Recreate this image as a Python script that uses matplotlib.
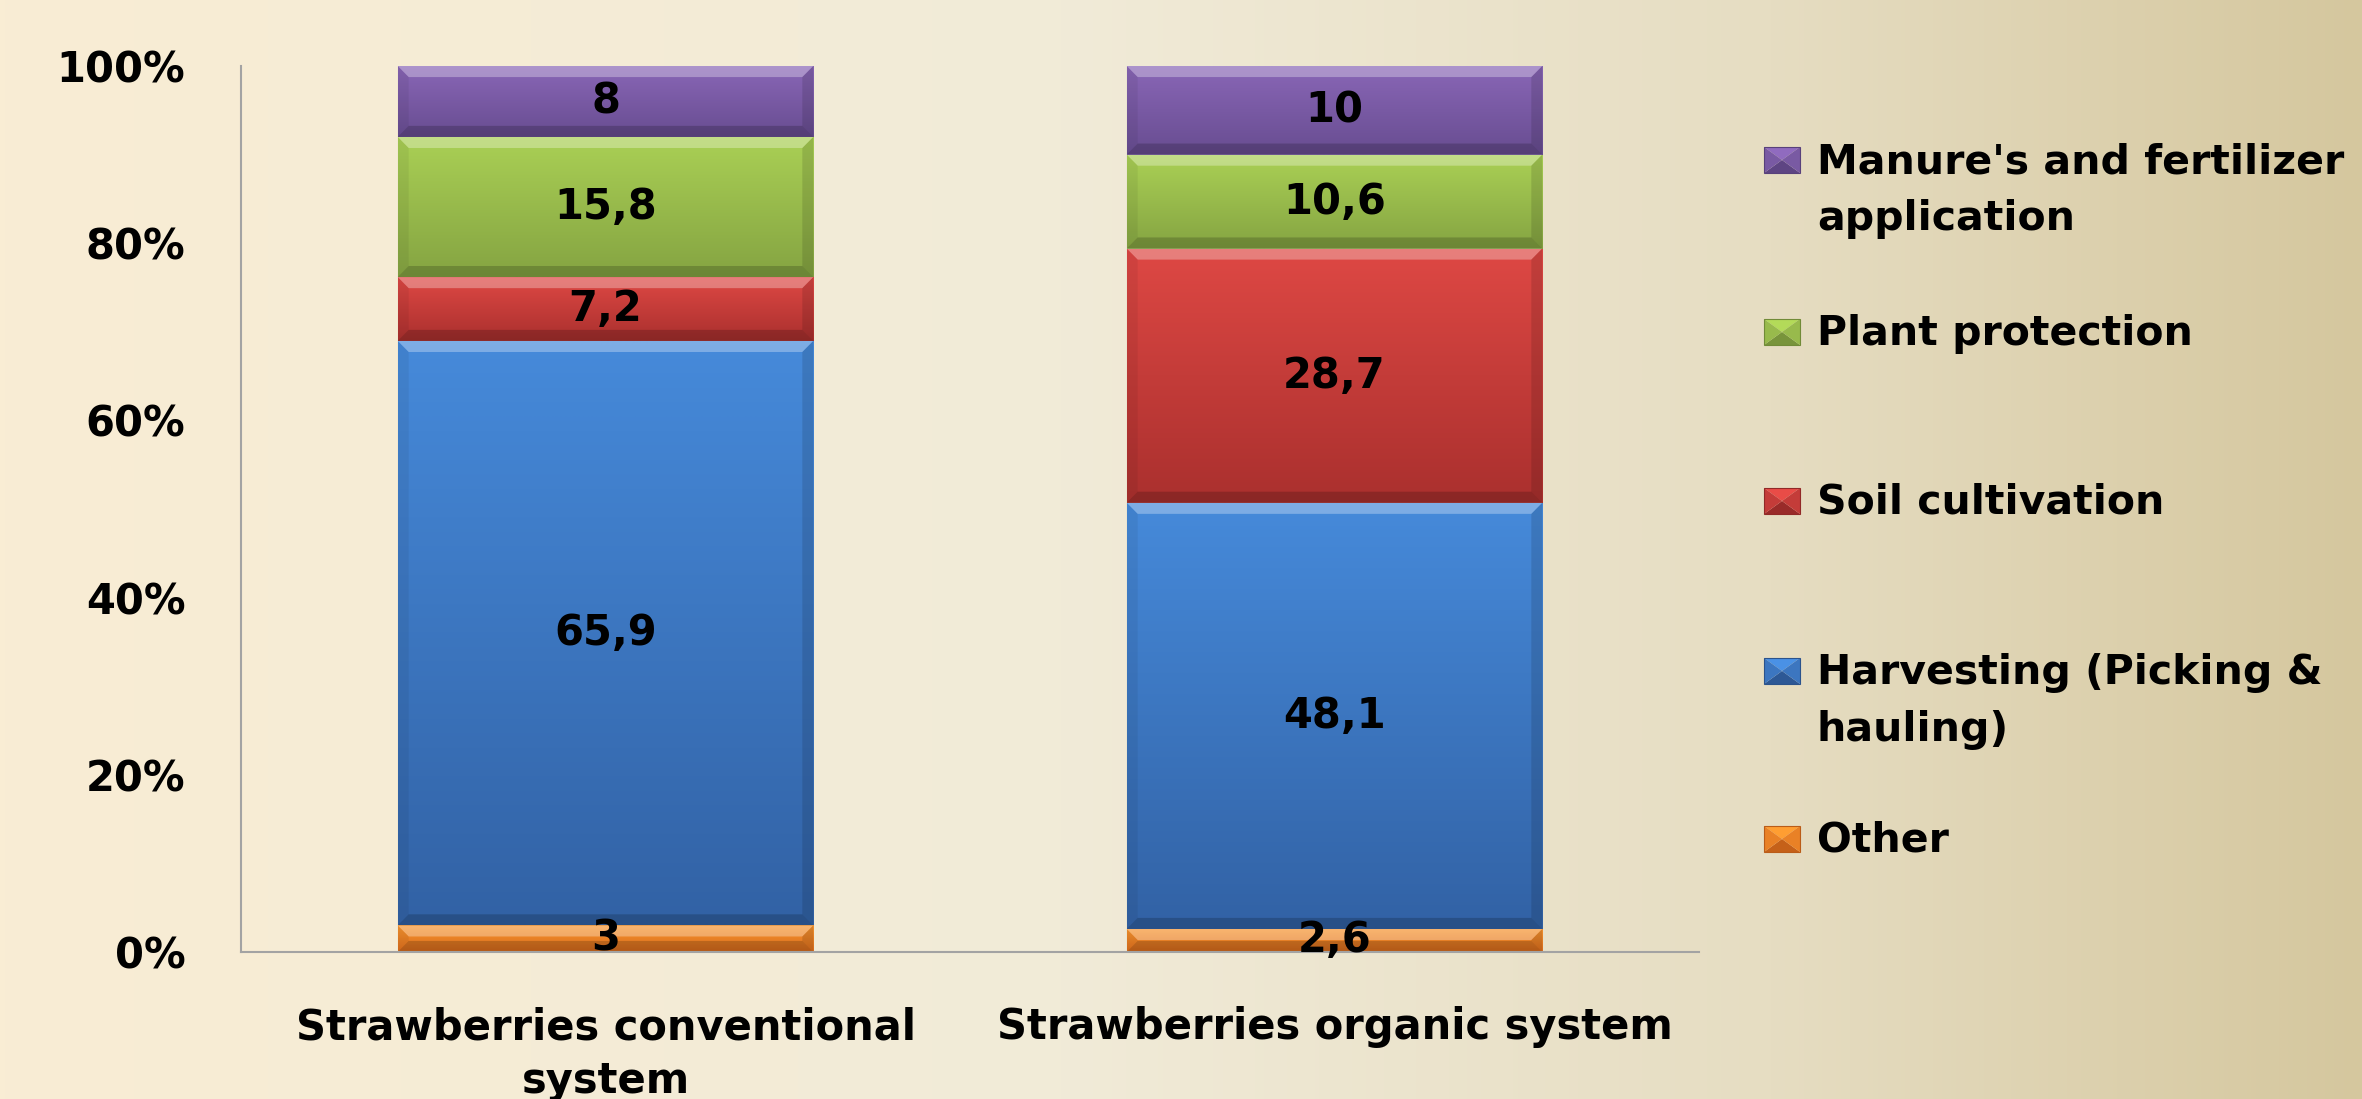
import numpy as np
import matplotlib.pyplot as plt
from matplotlib.patches import Polygon, Rectangle

# data
categories = ['Strawberries conventional\nsystem', 'Strawberries organic system']
series_names = ['Other', 'Harvesting (Picking &\nhauling)', 'Soil cultivation',
                'Plant protection', "Manure's and fertilizer\napplication"]
other = [3, 2.6]
harvesting = [65.9, 48.1]
soil = [7.2, 28.7]
plant = [15.8, 10.6]
manure = [8, 10]
y_ticks = [0, 20, 40, 60, 80, 100]

# (top, bottom) gradient colours for each series
shades = [((247, 150, 48), (219, 108, 28)),
          ((70, 138, 218), (50, 98, 165)),
          ((222, 72, 68), (170, 48, 46)),
          ((170, 208, 85), (133, 164, 66)),
          ((137, 102, 182), (104, 77, 145))]

W, H = 2362, 1099
fig = plt.figure(figsize=(W / 100, H / 100), dpi=100)

# background gradient
bg = fig.add_axes([0, 0, 1, 1], zorder=-10)
stops = np.array([0, 0.45, 0.75, 1.0])
cols = np.array([(249, 237, 212), (241, 235, 216), (230, 221, 194), (213, 199, 158)]) / 255
xs = np.linspace(0, 1, 512)
row = np.stack([np.interp(xs, stops, cols[:, i]) for i in range(3)], axis=1)
bg.imshow(row[None, :, :], aspect='auto', extent=(0, 1, 0, 1))
bg.axis('off')

ax = fig.add_axes([241 / W, 1 - 952 / H, (1699 - 241) / W, (952 - 66) / H])
ax.set_facecolor('none')

values = np.array([other, harvesting, soil, plant, manure], dtype=float)
pct = values / values.sum(axis=0) * 100
x = np.arange(len(categories))
width = 0.57
bx, by = 0.015, 1.25  # bevel size in data units

bottom = np.zeros(len(categories))
for i, name in enumerate(series_names):
    top_c = np.array(shades[i][0]) / 255
    bot_c = np.array(shades[i][1]) / 255
    bars = ax.bar(x, pct[i], width, bottom=bottom, color=(top_c + bot_c) / 2,
                  linewidth=0, zorder=2, label=name)
    for p in bars.patches:
        x0, w, y0, h = p.get_x(), p.get_width(), p.get_y(), p.get_height()
        t = np.linspace(0, 1, 64)[:, None]
        img = (top_c * (1 - t) + bot_c * t)[:, None, :]
        ax.imshow(img, extent=(x0, x0 + w, y0, y0 + h), aspect='auto',
                  origin='upper', zorder=2.1, interpolation='bilinear')
        x1, y1 = x0 + w, y0 + h
        ax.add_patch(Polygon([(x0, y1), (x1, y1), (x1 - bx, y1 - by), (x0 + bx, y1 - by)],
                             closed=True, fc='white', alpha=0.30, lw=0, zorder=2.2))
        ax.add_patch(Polygon([(x0, y0), (x1, y0), (x1 - bx, y0 + by), (x0 + bx, y0 + by)],
                             closed=True, fc='black', alpha=0.18, lw=0, zorder=2.2))
        ax.add_patch(Polygon([(x0, y0), (x0 + bx, y0 + by), (x0 + bx, y1 - by), (x0, y1)],
                             closed=True, fc='black', alpha=0.06, lw=0, zorder=2.2))
        ax.add_patch(Polygon([(x1, y0), (x1 - bx, y0 + by), (x1 - bx, y1 - by), (x1, y1)],
                             closed=True, fc='black', alpha=0.12, lw=0, zorder=2.2))
    labels = [f"{v:g}".replace('.', ',') for v in values[i]]
    ax.bar_label(bars, labels=labels, label_type='center', fontsize=30,
                 fontweight='bold', family='DejaVu Sans', color='black', zorder=5)
    bottom += pct[i]

ax.set_xlim(-0.5, 1.5)
ax.set_ylim(0, 100)
ax.set_yticks(y_ticks)
ax.set_yticklabels([f'{v}%' for v in y_ticks], fontsize=30, fontweight='bold',
                   family='DejaVu Sans')
ax.set_xticks(x)
ax.set_xticklabels(categories, fontsize=30, fontweight='bold', family='DejaVu Sans',
                   linespacing=1.35)
ax.tick_params(axis='y', length=0, pad=40)
ax.tick_params(axis='x', length=0, pad=39)
for s in ['top', 'right']:
    ax.spines[s].set_visible(False)
for s in ['left', 'bottom']:
    ax.spines[s].set_color('#a3a3a3')
    ax.spines[s].set_linewidth(1.5)

# legend drawn by hand: order top to bottom as in the reference
legend_baselines = [173, 345, 514, 684, 852]
order = [4, 3, 2, 1, 0]
for k, i in enumerate(order):
    base = legend_baselines[k]
    mx0, mx1 = 1764 / W, 1800 / W
    my0, my1 = 1 - base / H, 1 - (base - 26) / H
    cx, cy = (mx0 + mx1) / 2, (my0 + my1) / 2
    top_c = np.array(shades[i][0]) / 255
    bot_c = np.array(shades[i][1]) / 255
    mid_c = (top_c + bot_c) / 2
    fig.add_artist(Polygon([(mx0, my1), (mx1, my1), (cx, cy)], closed=True,
                           fc=np.clip(top_c * 1.05, 0, 1), lw=0, transform=fig.transFigure))
    fig.add_artist(Polygon([(mx0, my0), (mx1, my0), (cx, cy)], closed=True,
                           fc=bot_c * 0.9, lw=0, transform=fig.transFigure))
    fig.add_artist(Polygon([(mx0, my0), (mx0, my1), (cx, cy)], closed=True,
                           fc=mid_c, lw=0, transform=fig.transFigure))
    fig.add_artist(Polygon([(mx1, my0), (mx1, my1), (cx, cy)], closed=True,
                           fc=mid_c, lw=0, transform=fig.transFigure))
    fig.add_artist(Rectangle((mx0, my0), mx1 - mx0, my1 - my0, fill=False,
                             ec=bot_c * 0.85, lw=0.8, transform=fig.transFigure))
    fig.text(1817 / W, 1 - (base - 31) / H, series_names[i], fontsize=29.5,
             fontweight='bold', family='DejaVu Sans', va='top', ha='left',
             linespacing=1.55)

fig.savefig('out.png', dpi=100)
